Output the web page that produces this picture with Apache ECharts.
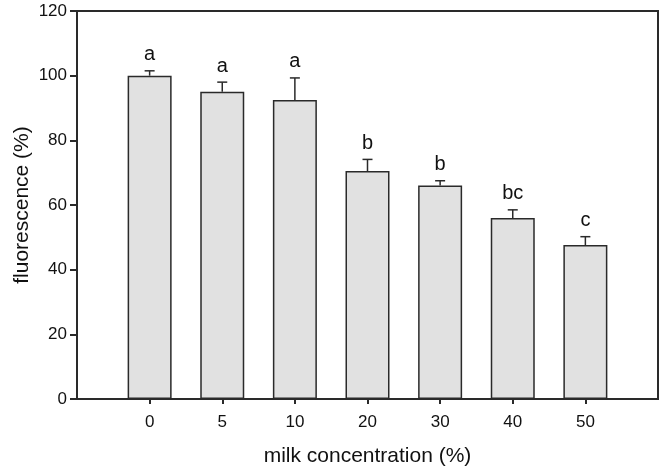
<!DOCTYPE html>
<html>
<head>
<meta charset="utf-8">
<script src="https://cdn.jsdelivr.net/npm/echarts@6/dist/echarts.min.js"></script>
<style>
html,body{margin:0;padding:0;background:#fff;}
#chart{width:665px;height:468px;}
</style>
</head>
<body>
<div id="chart"></div>
<script>
var categories = ['0', '5', '10', '20', '30', '40', '50'];
var meanValues = [100, 95, 92.5, 70.5, 66, 56, 47.6];
var errorValues = [1.5, 3, 6.8, 3.6, 1.5, 2.5, 2.6];
var groupLetters = ['a', 'a', 'a', 'b', 'b', 'bc', 'c'];
var yTicks = [0, 20, 40, 60, 80, 100, 120];

var FONT = 'Liberation Sans, Arial, Helvetica, sans-serif';
var INK = '#2a2a2a';

var barData = categories.map(function (c, i) { return [i, meanValues[i]]; });
var errData = categories.map(function (c, i) { return [i, meanValues[i], errorValues[i]]; });
var idx = categories.map(function (c, i) { return i; });

var chart = echarts.init(document.getElementById('chart'));
chart.setOption({
  animation: false,
  backgroundColor: '#fff',
  grid: {
    left: 77, right: 7, top: 11, bottom: 69,
    containLabel: false, outerBoundsMode: 'none',
    show: true, borderColor: INK, borderWidth: 2, backgroundColor: 'transparent'
  },
  xAxis: {
    type: 'value', min: -1, max: 7, interval: 1,
    name: 'milk concentration (%)', nameLocation: 'middle', nameGap: 47, nameMoveOverlap: false,
    nameTextStyle: { fontFamily: FONT, fontSize: 21, color: '#111' },
    axisLine: { show: true, onZero: false, lineStyle: { color: INK, width: 2 } },
    axisTick: { show: true, customValues: idx, length: 5, lineStyle: { color: INK, width: 2 } },
    axisLabel: {
      customValues: idx, margin: 15,
      fontFamily: FONT, fontSize: 17, color: '#111',
      formatter: function (v) { var i = Math.round(v); return categories[i] !== undefined ? categories[i] : ''; }
    },
    splitLine: { show: false }
  },
  yAxis: {
    type: 'value', min: yTicks[0], max: yTicks[yTicks.length - 1], interval: 20,
    name: 'fluorescence (%)', nameLocation: 'middle', nameGap: 44, nameMoveOverlap: false,
    nameTextStyle: { fontFamily: FONT, fontSize: 21, color: '#111' },
    axisLine: { show: true, onZero: false, lineStyle: { color: INK, width: 2 } },
    axisTick: { show: true, length: 7, lineStyle: { color: INK, width: 2 } },
    axisLabel: { margin: 10, fontFamily: FONT, fontSize: 17, color: '#111' },
    splitLine: { show: false }
  },
  series: [
    {
      type: 'bar',
      data: barData,
      barWidth: 44,
      itemStyle: { color: '#e1e1e1', borderColor: INK, borderWidth: 1.5 },
      z: 2
    },
    {
      type: 'custom',
      data: errData,
      z: 3,
      renderItem: function (params, api) {
        var x = api.value(0), m = api.value(1), e = api.value(2);
        var letter = groupLetters[params.dataIndex];
        var pBase = api.coord([x, m]);
        var pTop = api.coord([x, m + e]);
        var hw = 5;
        return {
          type: 'group',
          children: [
            { type: 'line', shape: { x1: pBase[0], y1: pBase[1], x2: pTop[0], y2: pTop[1] },
              style: { stroke: INK, lineWidth: 1.5 } },
            { type: 'line', shape: { x1: pTop[0] - hw, y1: pTop[1], x2: pTop[0] + hw, y2: pTop[1] },
              style: { stroke: INK, lineWidth: 1.5 } },
            { type: 'text', x: pTop[0], y: pTop[1] - 6,
              style: { text: letter, font: '20px ' + FONT, fill: '#111', align: 'center', verticalAlign: 'bottom' } }
          ]
        };
      }
    }
  ]
});
</script>
</body>
</html>
